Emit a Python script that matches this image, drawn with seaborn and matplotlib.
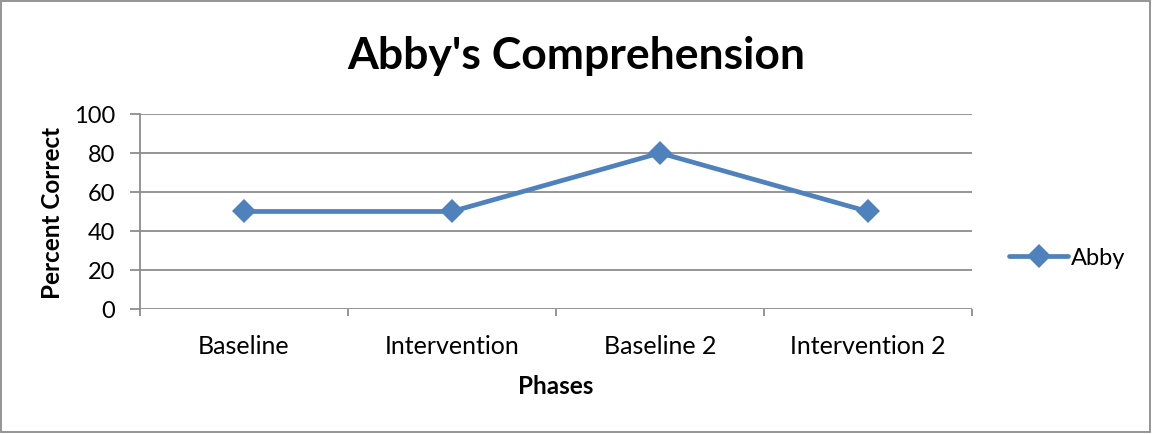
import pandas as pd
import matplotlib.pyplot as plt
import seaborn as sns
from matplotlib.patches import Rectangle

# data
phases = ['Baseline', 'Intervention', 'Baseline 2', 'Intervention 2']
percent_correct = [50, 50, 80, 50]
yticks = [0, 20, 40, 60, 80, 100]

df = pd.DataFrame({'Phases': phases, 'Percent Correct': percent_correct})

sns.set_style('white')
plt.rcParams['font.family'] = ['Lato', 'DejaVu Sans']
plt.rcParams['text.color'] = 'black'
plt.rcParams['axes.labelcolor'] = 'black'
plt.rcParams['xtick.color'] = 'black'
plt.rcParams['ytick.color'] = 'black'

blue = '#4F81BD'
grid_gray = '#8C8C8C'

fig = plt.figure(figsize=(11.52, 4.35), dpi=100)
ax = fig.add_axes([0.1215, 0.2874, 0.7222, 0.4483])

sns.lineplot(data=df, x='Phases', y='Percent Correct', ax=ax, color=blue,
             linewidth=3.4, marker='D', markersize=12, markeredgewidth=0,
             label='Abby', sort=False)

ax.set_xlim(-0.5, 3.5)
ax.set_ylim(0, 100)
ax.set_yticks(yticks)
for y in yticks:
    ax.axhline(y, color=grid_gray, linewidth=1.3, zorder=0)

for s in ['top', 'right', 'bottom']:
    ax.spines[s].set_visible(False)
ax.spines['left'].set_color(grid_gray)
ax.spines['left'].set_linewidth(1.3)

ax.tick_params(axis='y', left=True, length=7, width=1.3, color=grid_gray,
               labelcolor='black', labelsize=17, pad=11)
ax.set_xticks(range(len(phases)))
ax.set_xticklabels(phases)
ax.tick_params(axis='x', which='major', bottom=True, length=0, labelcolor='black',
               labelsize=18, pad=18)
ax.set_xticks([i - 0.5 for i in range(len(phases) + 1)], minor=True)
ax.tick_params(axis='x', which='minor', bottom=True, length=5, width=1.3, color=grid_gray)

ax.set_xlabel('Phases', fontsize=17.5, fontweight='bold', labelpad=12)
ax.set_ylabel('Percent Correct', fontsize=17.5, fontweight='bold', labelpad=7)

fig.text(0.5, 0.872, "Abby's Comprehension", ha='center', va='center',
         fontsize=32, fontweight='bold')

ax.legend_.remove()
fig.legend(loc='center left', bbox_to_anchor=(0.866, 0.405), frameon=False,
           fontsize=17, handlelength=2.5, handletextpad=0.1, borderpad=0)

fig.patches.append(Rectangle((0.001, 0.004), 0.997, 0.992, transform=fig.transFigure,
                             fill=False, edgecolor='#8C8C8C', linewidth=1.3))

plt.savefig('out.png', dpi=100)
